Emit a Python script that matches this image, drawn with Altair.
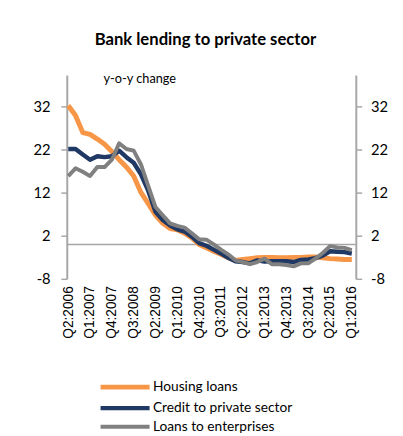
import json
import altair as alt
import pandas as pd

quarters = [
    "Q2:2006", "Q3:2006", "Q4:2006", "Q1:2007", "Q2:2007", "Q3:2007", "Q4:2007",
    "Q1:2008", "Q2:2008", "Q3:2008", "Q4:2008", "Q1:2009", "Q2:2009", "Q3:2009",
    "Q4:2009", "Q1:2010", "Q2:2010", "Q3:2010", "Q4:2010", "Q1:2011", "Q2:2011",
    "Q3:2011", "Q4:2011", "Q1:2012", "Q2:2012", "Q3:2012", "Q4:2012", "Q1:2013",
    "Q2:2013", "Q3:2013", "Q4:2013", "Q1:2014", "Q2:2014", "Q3:2014", "Q4:2014",
    "Q1:2015", "Q2:2015", "Q3:2015", "Q4:2015", "Q1:2016",
]

housing = [32.3, 30.0, 26.0, 25.6, 24.5, 23.3, 21.6, 19.7, 18.0, 15.9,
           12.1, 9.5, 6.8, 4.9, 3.7, 3.4, 2.6, 1.5, 0.0, -0.8,
           -1.6, -2.3, -3.1, -3.7, -3.5, -3.3, -3.1, -3.0, -3.0, -3.1,
           -3.1, -3.0, -3.0, -2.9, -2.9, -3.1, -3.3, -3.4, -3.5, -3.5]

credit = [22.2, 22.2, 20.9, 19.7, 20.5, 20.3, 20.5, 21.8, 20.3, 19.0,
          16.3, 12.5, 7.6, 5.7, 4.4, 3.5, 3.0, 1.8, 0.3, -0.3,
          -1.2, -2.1, -3.1, -3.9, -4.1, -4.4, -3.7, -4.0, -3.9, -3.9,
          -3.9, -4.1, -3.6, -3.5, -3.2, -2.6, -1.6, -1.7, -1.8, -2.1]

enterprises = [15.9, 17.7, 16.9, 15.9, 18.0, 18.0, 19.7, 23.5, 22.2, 21.8,
               18.6, 13.6, 8.7, 6.8, 4.9, 4.3, 3.9, 2.6, 1.2, 1.1,
               0.0, -1.2, -2.3, -3.7, -4.1, -4.6, -4.1, -3.3, -4.6, -4.6,
               -4.8, -5.1, -4.4, -4.4, -3.3, -2.0, -0.4, -0.7, -0.8, -1.3]

series_names = ["Housing loans", "Credit to private sector", "Loans to enterprises"]
series_colors = ["#f79646", "#1f3864", "#808080"]
series_widths = [5, 4, 4.5]
y_ticks = [-8, 2, 12, 22, 32]
x_ticks = list(range(0, 40, 3))

rows = []
for name, vals in zip(series_names, [housing, credit, enterprises]):
    for i, (q, v) in enumerate(zip(quarters, vals)):
        rows.append({"idx": i, "quarter": q, "series": name, "value": v})
df = pd.DataFrame(rows)

y_dom = [-8, 39.4]
axis_gray = "#a6a6a6"

lines = alt.Chart(df).mark_line(strokeJoin="round", strokeCap="butt").encode(
    x=alt.X("idx:Q",
            scale=alt.Scale(domain=[-0.2, 39.55], nice=False, zero=False),
            axis=alt.Axis(values=x_ticks,
                          labelExpr=json.dumps(quarters) + "[datum.value]",
                          labelAngle=-90, labelAlign="right", labelBaseline="middle",
                          domain=False, ticks=False, grid=False, title=None,
                          labelFont="Liberation Sans", labelFontSize=14,
                          labelColor="#000000", labelPadding=7)),
    y=alt.Y("value:Q",
            scale=alt.Scale(domain=y_dom, nice=False, zero=False),
            axis=alt.Axis(orient="left", values=y_ticks, grid=False,
                          labelExpr="'' + datum.value",
                          domainColor=axis_gray, domainWidth=2,
                          tickColor=axis_gray, tickWidth=1.5, tickSize=6,
                          labelPadding=11, labelFont="Lato", labelFontSize=15,
                          labelColor="#000000",
                          title="y-o-y change", titleAngle=0, titleAlign="left",
                          titleBaseline="alphabetic", titleX=37, titleY=8,
                          titleFont="Lato", titleFontWeight="normal",
                          titleFontSize=13, titleColor="#000000")),
    color=alt.Color("series:N",
                    scale=alt.Scale(domain=series_names, range=series_colors),
                    legend=alt.Legend(orient="none", legendX=52, legendY=311,
                                      title=None, direction="vertical",
                                      symbolType="M-5,0H5", symbolSize=100,
                                      symbolStrokeWidth=5,
                                      labelFont="Lato", labelFontSize=14,
                                      labelColor="#000000", labelOffset=21,
                                      rowPadding=1.5)),
    strokeWidth=alt.StrokeWidth("series:N",
                                scale=alt.Scale(domain=series_names, range=series_widths),
                                legend=None),
)

zero_rule = alt.Chart(pd.DataFrame({"zero": [0]})).mark_rule(
    color=axis_gray, strokeWidth=1.5
).encode(
    y=alt.Y("zero:Q",
            scale=alt.Scale(domain=y_dom, nice=False, zero=False),
            axis=alt.Axis(orient="right", values=y_ticks, grid=False,
                          labelExpr="'' + datum.value",
                          domainColor=axis_gray, domainWidth=2,
                          tickColor=axis_gray, tickWidth=1.5, tickSize=6,
                          labelPadding=9, labelFont="Lato", labelFontSize=15,
                          labelColor="#000000", title=None)),
)

chart = alt.layer(zero_rule, lines).resolve_scale(y="independent").properties(
    width=295, height=208,
    autosize=alt.AutoSizeParams(type="none"),
    padding={"left": 60, "top": 64, "right": 40, "bottom": 156},
    title=alt.Title("Bank lending to private sector", font="Lato", fontSize=17,
                    fontWeight="bold", anchor="middle", frame="group",
                    baseline="alphabetic", offset=12, dx=-6, color="#000000"),
).configure_view(stroke=None)

chart.save("out.html", embed_options={"renderer": "svg", "actions": False})
